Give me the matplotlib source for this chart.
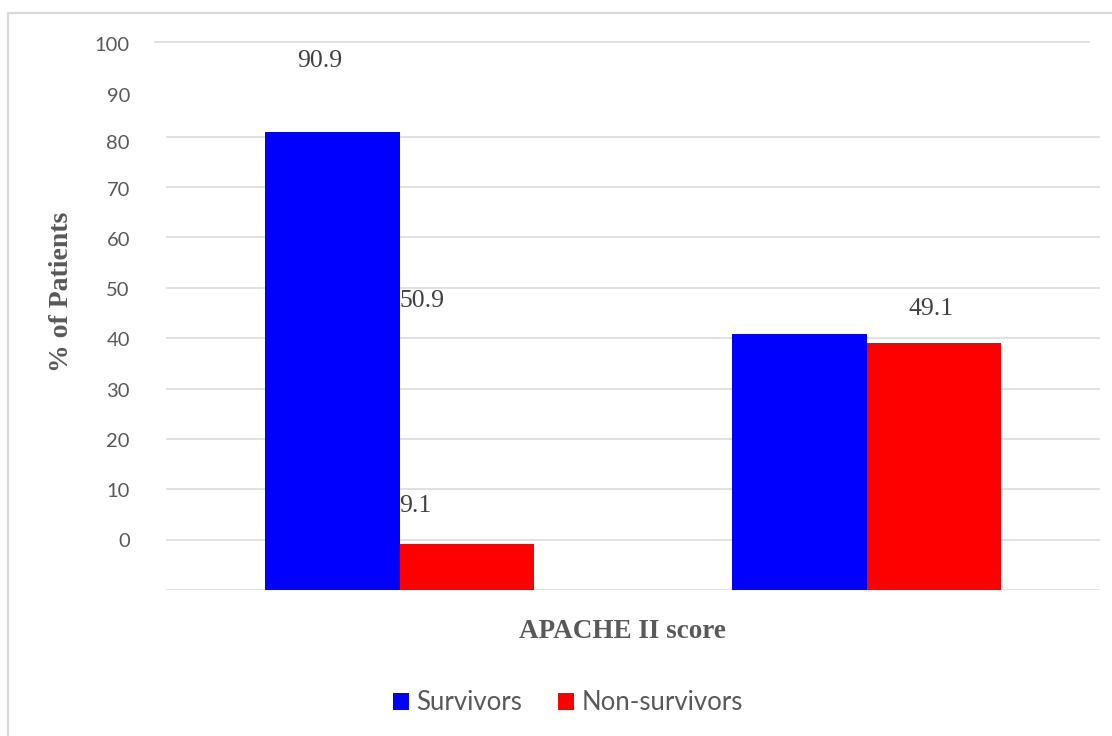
import matplotlib
matplotlib.use("Agg")
import matplotlib.pyplot as plt
from matplotlib.patches import Rectangle
import numpy as np

# Data
groups = ["Group 1", "Group 2"]
series = ["Survivors", "Non-survivors"]
survivors = [90.9, 50.9]
non_survivors = [9.1, 49.1]
colors = ["#0000FF", "#FF0000"]
tick_text = ["0", "10", "20", "30", "40", "50", "60", "70", "80", "90", "100"]

W, H = 1112, 736
fig = plt.figure(figsize=(W / 100, H / 100), dpi=100)

# plot area in pixel units -> figure fraction
ax_l, ax_r, ax_b, ax_t = 166, 1100, 590, 36
ax = fig.add_axes([ax_l / W, (H - ax_b) / H, (ax_r - ax_l) / W, (ax_b - ax_t) / H])
ax.set_xlim(-0.5, 1.5)
ax.set_ylim(0, 110)

x = np.arange(len(groups))
bw = 0.287
ax.bar(x - bw / 2, survivors, bw, color=colors[0], label=series[0], zorder=3)
ax.bar(x + bw / 2, non_survivors, bw, color=colors[1], label=series[1], zorder=3)

# gridlines
grid_c = "#d9d9d9"
for g in range(0, 100, 10):
    ax.axhline(g, color=grid_c, lw=1.1, zorder=1)
ax.plot([-0.5236, 1.476], [108.8, 108.8], color=grid_c, lw=1.1, clip_on=False, zorder=1)

# y tick labels
tick_pos = [9.9, 19.9, 29.8, 39.8, 49.8, 59.7, 69.7, 79.6, 89.0, 98.3, 108.4]
ax.set_yticks(tick_pos)
ax.set_yticklabels(tick_text)
ax.tick_params(axis="y", length=0, pad=26, labelsize=14.5, labelcolor="#595959")
for t in ax.get_yticklabels():
    t.set_fontfamily("Lato")
ax.set_xticks([])
for s in ax.spines.values():
    s.set_visible(False)

# value labels
lab_font = dict(family="Liberation Serif", fontsize=18.5, color="#404040")
lab_vals = [survivors[0], non_survivors[0], survivors[1], non_survivors[1]]
lab_x = [-0.170, 0.0, 0.0, 1.138]
lab_y = [105.0, 16.6, 57.3, 55.8]
lab_ha = ["center", "left", "left", "center"]
for v, lx, ly, ha in zip(lab_vals, lab_x, lab_y, lab_ha):
    ax.text(lx, ly, f"{v:.1f}", ha=ha, va="center", **lab_font)

# axis titles
title_font = dict(family="Liberation Serif", fontweight="bold", color="#595959")
fig.text(62 / W, 1 - 292 / H, "% of Patients", rotation=90, ha="center", va="center",
         fontsize=20, **title_font)
fig.text(622 / W, 1 - 632 / H, "APACHE II score", ha="center", va="center",
         fontsize=19.5, **title_font)

# legend
handles, labels = ax.get_legend_handles_labels()
leg = fig.legend(handles, labels, loc="center", bbox_to_anchor=(568 / W, 1 - 703 / H),
                 ncol=2, frameon=False, handlelength=0.62, handleheight=0.62,
                 handletextpad=0.3, columnspacing=1.4,
                 prop=dict(family="Lato", size=18.5))
for t in leg.get_texts():
    t.set_color("#595959")

# chart border
fig.patches.append(Rectangle((8 / W, -0.05), 1.2, (H - 13) / H + 0.05,
                             transform=fig.transFigure, fill=False,
                             edgecolor="#d9d9d9", lw=1.6))

fig.savefig("out.png", dpi=100)
